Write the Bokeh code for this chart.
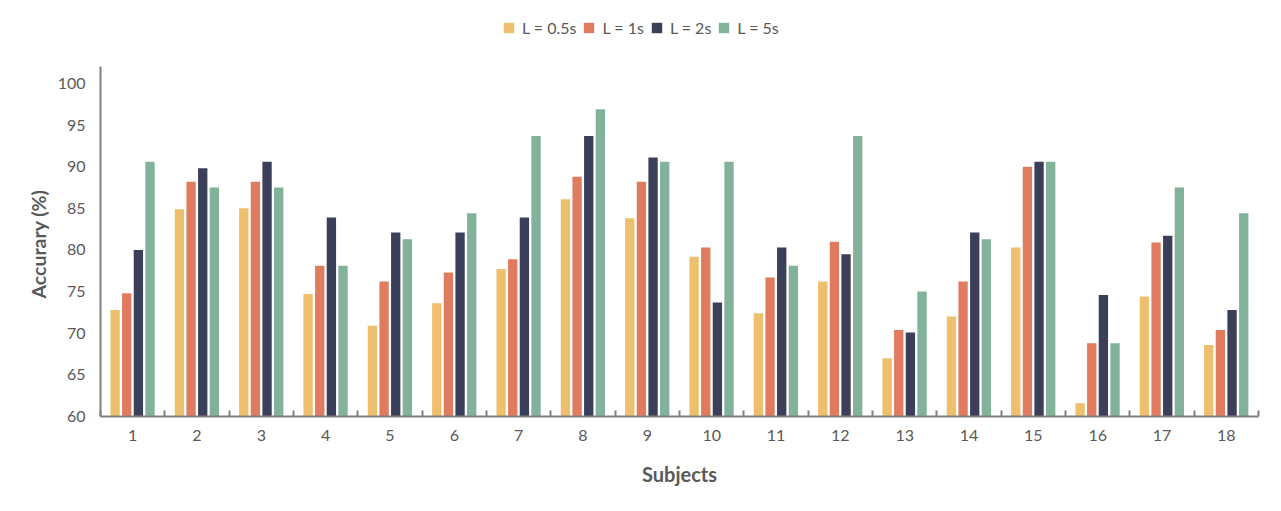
from bokeh.plotting import figure
from bokeh.models import ColumnDataSource, FixedTicker, Legend, LegendItem, Range1d, Title
from bokeh.transform import dodge
from bokeh.embed import file_html
from bokeh.resources import INLINE

subjects = list(range(1, 19))
series_names = ["L = 0.5s", "L = 1s", "L = 2s", "L = 5s"]
acc_05 = [72.8, 84.9, 85.0, 74.7, 70.9, 73.6, 77.7, 86.1, 83.8, 79.2, 72.4, 76.2, 67.0, 72.0, 80.3, 61.6, 74.4, 68.6]
acc_1 = [74.8, 88.2, 88.2, 78.1, 76.2, 77.3, 78.9, 88.8, 88.2, 80.3, 76.7, 81.0, 70.4, 76.2, 90.0, 68.8, 80.9, 70.4]
acc_2 = [80.0, 89.8, 90.6, 83.9, 82.1, 82.1, 83.9, 93.7, 91.1, 73.7, 80.3, 79.5, 70.1, 82.1, 90.6, 74.6, 81.7, 72.8]
acc_5 = [90.6, 87.5, 87.5, 78.1, 81.3, 84.4, 93.7, 96.9, 90.6, 90.6, 78.1, 93.7, 75.0, 81.3, 90.6, 68.8, 87.5, 84.4]
y_ticks = [60, 65, 70, 75, 80, 85, 90, 95, 100]

colors = ["#EEBF6D", "#E07B5F", "#3C3F5A", "#82B29A"]
offsets = [-0.273, -0.092, 0.089, 0.27]
FONT = "Lato"
TXT = "#595959"
AX = "#808080"

src = ColumnDataSource(dict(x=subjects, a=acc_05, b=acc_1, c=acc_2, d=acc_5))

# frame extends above the y axis so that the legend sits inside it
p = figure(width=1265, height=495, output_backend="svg", toolbar_location=None,
           x_range=Range1d(0.5, 18.5), y_range=Range1d(60, 109),
           min_border_left=100, min_border_right=7, min_border_top=8, min_border_bottom=79)
p.outline_line_color = None
p.xgrid.visible = False
p.ygrid.visible = False
p.background_fill_color = "white"

renderers = []
for col, off, c in zip(["a", "b", "c", "d"], offsets, colors):
    r = p.vbar(x=dodge("x", off), top=col, bottom=60, width=0.145, source=src,
               fill_color=c, line_color=None)
    renderers.append(r)

# x axis
p.xaxis.ticker = FixedTicker(ticks=subjects, minor_ticks=[s - 0.5 for s in subjects] + [18.5])
p.xaxis.major_tick_in = 0
p.xaxis.major_tick_out = 0
p.xaxis.minor_tick_in = 6
p.xaxis.minor_tick_out = 0
p.xaxis.minor_tick_line_color = AX
p.xaxis.minor_tick_line_width = 2
p.xaxis.major_label_standoff = 13
p.xaxis.axis_label = "Subjects"
p.xaxis.axis_label_standoff = 18

# y axis
p.yaxis.ticker = FixedTicker(ticks=y_ticks)
p.yaxis.bounds = (60, 102)
p.yaxis.major_tick_in = 0
p.yaxis.major_tick_out = 8
p.yaxis.minor_tick_line_color = None
p.yaxis.major_label_standoff = 7

for ax in (p.xaxis, p.yaxis):
    ax.axis_line_color = AX
    ax.axis_line_width = 2
    ax.major_tick_line_color = AX if ax is p.yaxis else None
    ax.major_tick_line_width = 2
    ax.major_label_text_font = FONT
    ax.major_label_text_font_size = "16px"
    ax.major_label_text_color = TXT
    ax.axis_label_text_font = FONT
    ax.axis_label_text_font_size = "20px"
    ax.axis_label_text_font_style = "bold"
    ax.axis_label_text_color = TXT

ytitle = Title(text="Accurary (%)", align="left", offset=118, standoff=10,
               text_font=FONT, text_font_size="19.5px", text_font_style="bold", text_color=TXT)
p.add_layout(ytitle, "left")

legend = Legend(items=[LegendItem(label=n, renderers=[r]) for n, r in zip(series_names, renderers)],
                orientation="horizontal", location=(402, 379),
                glyph_width=13, glyph_height=13, label_height=13, label_standoff=7,
                spacing=6, padding=0, margin=0, border_line_color=None,
                background_fill_alpha=0,
                label_text_font=FONT, label_text_font_size="16px", label_text_color=TXT)
p.add_layout(legend, "center")

open("out.html", "w").write(file_html(p, INLINE))
